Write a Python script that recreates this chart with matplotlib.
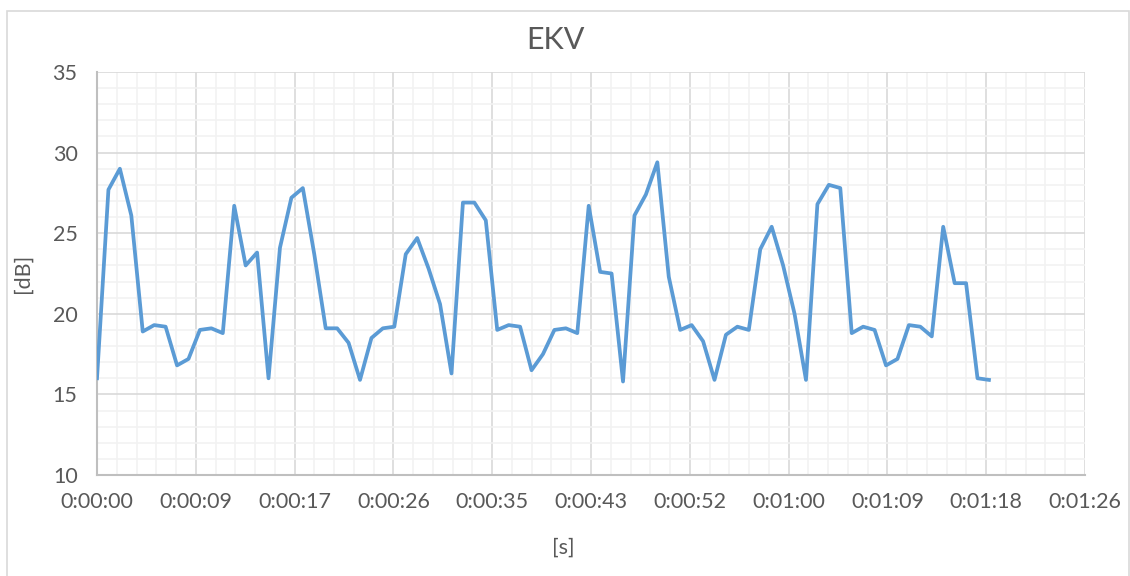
import matplotlib.pyplot as plt
import matplotlib.patches as patches
import numpy as np

plt.rcParams['font.family'] = ['Lato', 'DejaVu Sans']

# time in seconds, one sample per second
t = np.arange(79)
level = [16.0, 27.7, 29.0, 26.1, 18.9, 19.3, 19.2, 16.8, 17.2, 19.0,
         19.1, 18.8, 26.7, 23.0, 23.8, 16.0, 24.1, 27.2, 27.8, 23.7,
         19.1, 19.1, 18.2, 15.9, 18.5, 19.1, 19.2, 23.7, 24.7, 22.8,
         20.6, 16.3, 26.9, 26.9, 25.8, 19.0, 19.3, 19.2, 16.5, 17.5,
         19.0, 19.1, 18.8, 26.7, 22.6, 22.5, 15.8, 26.1, 27.4, 29.4,
         22.3, 19.0, 19.3, 18.3, 15.9, 18.7, 19.2, 19.0, 24.0, 25.4,
         23.0, 20.0, 15.9, 26.8, 28.0, 27.8, 18.8, 19.2, 19.0, 16.8,
         17.2, 19.3, 19.2, 18.6, 25.4, 21.9, 21.9, 16.0, 15.9]

# Excel major unit 0.0001 day = 8.64 s
major_step = 8.64
x_ticks = np.arange(11) * major_step
tick_labels = ['0:00:00', '0:00:09', '0:00:17', '0:00:26', '0:00:35', '0:00:43',
               '0:00:52', '0:01:00', '0:01:09', '0:01:18', '0:01:26']

fig = plt.figure(figsize=(11.3, 5.76), dpi=100)
ax = fig.add_axes([97/1130, 1 - 475/576, (1085-97)/1130, (475-72)/576])

# chart border
fig.patches.append(patches.Rectangle((7/1130, -0.01), 1 - 8/1130, 1 - 11/576 + 0.01,
                                     transform=fig.transFigure, fill=False,
                                     edgecolor='#D9D9D9', linewidth=1.2))

ax.plot(t, level, color='#5B9BD5', linewidth=2.7, solid_joinstyle='round', zorder=3)

ax.set_xlim(0, 10 * major_step)
ax.set_ylim(10, 35)
ax.set_xticks(x_ticks)
ax.set_xticklabels(tick_labels)
ax.set_xticks(np.arange(51) * major_step / 5, minor=True)
ax.set_yticks(np.arange(10, 36, 5))
ax.set_yticks(np.arange(10, 36, 1), minor=True)

ax.grid(which='major', color='#D9D9D9', linewidth=1.2, zorder=1)
ax.grid(which='minor', color='#F2F2F2', linewidth=1.2, zorder=0)
ax.set_axisbelow(True)

for s in ['top', 'right']:
    ax.spines[s].set_visible(False)
for s in ['left', 'bottom']:
    ax.spines[s].set_color('#BFBFBF')
    ax.spines[s].set_linewidth(1.5)

ax.tick_params(which='both', length=0, colors='#595959', labelsize=15.5)
ax.tick_params(axis='x', pad=12)
ax.tick_params(axis='y', pad=14)

fig.text(555/1130, 1 - 40/576, 'EKV', fontsize=22, color='#595959',
         ha='center', va='center')
fig.text(563/1130, 1 - 548/576, '[s]', fontsize=15.5, color='#595959',
         ha='center', va='center')
ax.set_ylabel('[dB]', fontsize=15.5, color='#595959', labelpad=14)

fig.savefig('out.png', dpi=100)
